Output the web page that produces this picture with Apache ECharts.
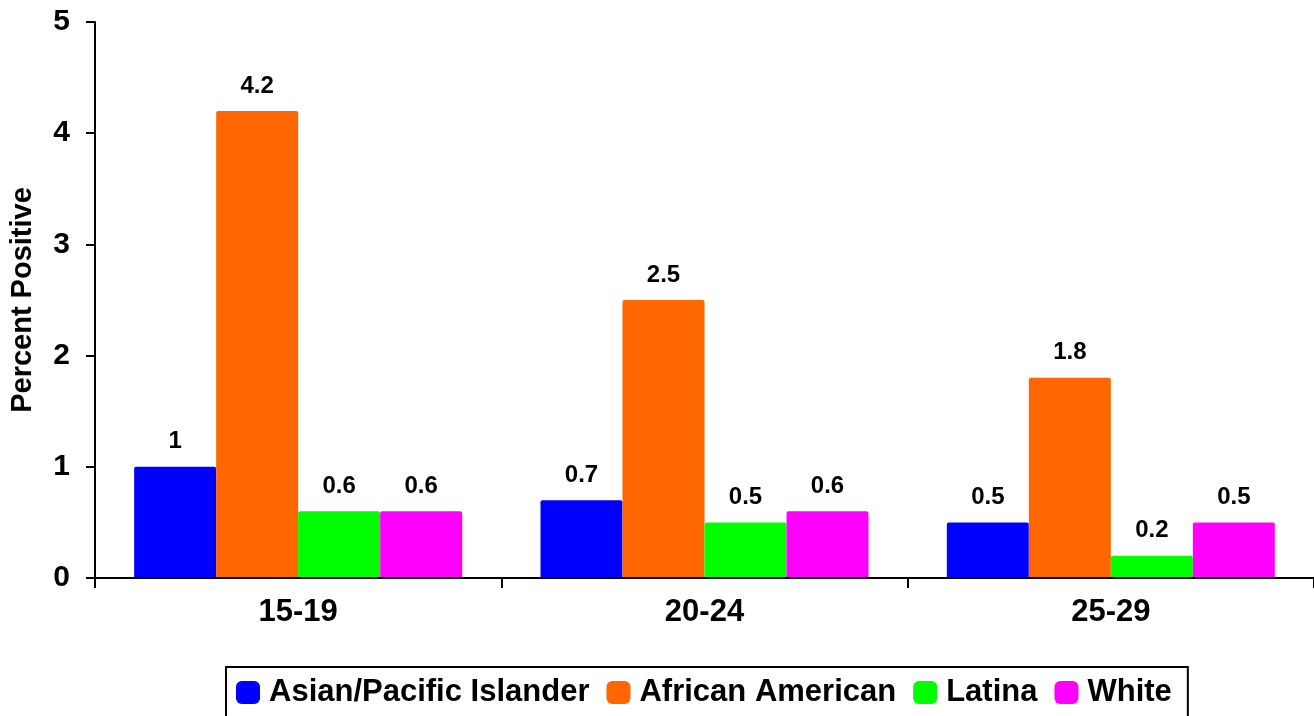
<!DOCTYPE html>
<html>
<head>
<meta charset="utf-8">
<script src="https://cdn.jsdelivr.net/npm/echarts@6/dist/echarts.min.js"></script>
<style>
  html, body { margin: 0; padding: 0; background: #fff; }
  #chart { width: 1314px; height: 716px; }
</style>
</head>
<body>
<div id="chart"></div>
<script>
// Age groups on the category axis
const ageGroups = ['15-19', '20-24', '25-29'];

// Percent positive by race/ethnicity for each age group
const asianPacific = [1, 0.7, 0.5];
const africanAmerican = [4.2, 2.5, 1.8];
const latina = [0.6, 0.5, 0.2];
const white = [0.6, 0.6, 0.5];

const seriesNames = ['Asian/Pacific Islander', 'African American', 'Latina', 'White'];
const seriesColors = ['#0000FF', '#FF6600', '#00FF00', '#FF00FF'];
const seriesData = [asianPacific, africanAmerican, latina, white];

const FONT = '"Liberation Sans", Arial, sans-serif';

const chart = echarts.init(document.getElementById('chart'), null, { renderer: 'canvas' });

chart.setOption({
  backgroundColor: '#ffffff',
  animation: false,
  textStyle: { fontFamily: FONT, color: '#000' },
  grid: { left: 95, top: 22, width: 1222, height: 556, containLabel: false },
  legend: {
    data: seriesNames,
    left: 226,
    top: 667,
    orient: 'horizontal',
    icon: 'roundRect',
    itemWidth: 24,
    itemHeight: 23,
    itemGap: 17,
    padding: [10, 16, 30, 10],
    borderColor: '#000',
    borderWidth: 2,
    backgroundColor: '#fff',
    textStyle: {
      fontFamily: FONT,
      fontWeight: 'bold',
      fontSize: 31,
      lineHeight: 31,
      color: '#000',
      padding: [0, 0, 0, 4]
    }
  },
  xAxis: {
    type: 'category',
    data: ageGroups,
    z: 5,
    axisLine: { show: true, lineStyle: { color: '#000', width: 2 } },
    axisTick: { show: true, length: 10, alignWithLabel: false, lineStyle: { color: '#000', width: 2 } },
    axisLabel: {
      margin: 19,
      fontFamily: FONT,
      fontWeight: 'bold',
      fontSize: 31,
      color: '#000'
    },
    splitLine: { show: false }
  },
  yAxis: {
    type: 'value',
    min: 0,
    max: 5,
    interval: 1,
    z: 5,
    name: 'Percent Positive',
    nameLocation: 'middle',
    nameRotate: 90,
    nameGap: 58,
    nameTextStyle: {
      fontFamily: FONT,
      fontWeight: 'bold',
      fontSize: 29,
      color: '#000'
    },
    axisLine: { show: true, lineStyle: { color: '#000', width: 2 } },
    axisTick: { show: true, length: 9, lineStyle: { color: '#000', width: 2 } },
    axisLabel: {
      margin: 25,
      fontFamily: FONT,
      fontWeight: 'bold',
      fontSize: 30,
      color: '#000'
    },
    splitLine: { show: false }
  },
  series: seriesNames.map((name, i) => ({
    name: name,
    type: 'bar',
    data: seriesData[i],
    barWidth: 82,
    barGap: '0%',
    itemStyle: { color: seriesColors[i], borderRadius: [2, 2, 0, 0] },
    label: {
      show: true,
      position: 'top',
      distance: 13,
      fontFamily: FONT,
      fontWeight: 'bold',
      fontSize: 24,
      color: '#000'
    }
  }))
});
</script>
</body>
</html>
